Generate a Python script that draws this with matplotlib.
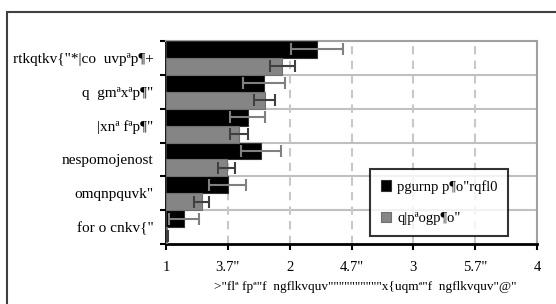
import matplotlib
matplotlib.use("Agg")
import matplotlib.pyplot as plt
import numpy as np
from matplotlib.patches import Rectangle

categories = ['rtkqtkv{"*|co  uvpªp¶+', 'q  gmªxªp¶"', '|xnª fªp¶"',
              'nespomojenost', 'omqnpquvk"', 'for o cnkv{"']
series_names = ['pgurnp p¶o"rqfl0', 'q|pªogp¶o"']
black_vals = [2.22, 1.79, 1.66, 1.77, 1.50, 1.145]
black_err = [0.21, 0.17, 0.14, 0.16, 0.15, 0.12]
gray_vals = [1.94, 1.80, 1.59, 1.49, 1.29, 1.01]
gray_err = [0.10, 0.085, 0.075, 0.07, 0.06, 0.01]
xticks = [1, 1.5, 2, 2.5, 3, 3.5, 4]
xtick_labels = ['1', '3.7"', '2', '4.7"', '3', '5.7"', '4']
xlabel = '>"flª fpª"f  ngflkvquv""""""""""x{uqmª"f  ngflkvquv"@"'

plt.rcParams['font.family'] = ['Liberation Serif', 'DejaVu Serif']

fig = plt.figure(figsize=(5.56, 3.04), dpi=100)
ax = fig.add_axes([166/556, 1-244/304, (537-166)/556, (244-41)/304])

y = np.arange(len(categories))
base = 1.0
ax.barh(y - 0.25, np.array(black_vals) - base, left=base, height=0.5,
        color='#000000', edgecolor='#303030', linewidth=0.8, zorder=3,
        label=series_names[0])
ax.barh(y + 0.25, np.array(gray_vals) - base, left=base, height=0.5,
        color='#858585', edgecolor='#707070', linewidth=0.8, zorder=3,
        label=series_names[1])
ax.errorbar(black_vals, y - 0.25, xerr=black_err, fmt='none', ecolor='#808080',
            elinewidth=1.5, capsize=4.5, capthick=1.5, zorder=4)
ax.errorbar(gray_vals, y + 0.25, xerr=gray_err, fmt='none', ecolor='#404040',
            elinewidth=1.5, capsize=4.5, capthick=1.5, zorder=4)

ax.set_xlim(1, 4)
ax.set_ylim(len(categories) - 0.5, -0.5)
ax.set_xticks(xticks)
ax.set_xticklabels(xtick_labels, fontsize=10.5)
ax.set_yticks(y)
ax.set_yticklabels(categories, fontsize=11)
ax.tick_params(axis='y', which='major', length=0, pad=9)
ax.set_yticks(np.arange(-0.5, len(categories), 1.0), minor=True)
ax.tick_params(axis='y', which='minor', length=4, width=1.5, color='black')
ax.tick_params(axis='x', which='major', length=4, width=1.5, pad=8, color='black')

for b in np.arange(0.5, len(categories) - 0.5, 1.0):
    ax.axhline(b, color='#c0c0c0', lw=1.5, zorder=1)
for xv in [1.5, 2, 2.5, 3, 3.5]:
    ax.axvline(xv, color='#c8c8c8', lw=1.5, ls=(0, (4, 3)), zorder=1)

for s in ['top', 'right']:
    ax.spines[s].set_color('#a0a0a0')
    ax.spines[s].set_linewidth(1.5)
for s in ['left', 'bottom']:
    ax.spines[s].set_color('black')
    ax.spines[s].set_linewidth(2)

ax.set_xlabel(xlabel, fontsize=9.5)
ax.xaxis.set_label_coords((365 - 166) / 371, -0.183)

leg = ax.legend(loc='lower left', bbox_to_anchor=(0.55, 0.04),
                fontsize=10.5, frameon=True, fancybox=False,
                edgecolor='black', handlelength=0.7, handleheight=0.7,
                labelspacing=1.25, borderpad=0.75, handletextpad=0.4,
                borderaxespad=0)
leg.get_frame().set_linewidth(1.5)
leg.set_zorder(5)

fig.patches.append(Rectangle((7/556, -0.2), 1.2, 0.2 + 1 - 12/304,
                             transform=fig.transFigure, fill=False,
                             edgecolor='#404040', lw=1.5))

fig.savefig('out.png', dpi=100)
